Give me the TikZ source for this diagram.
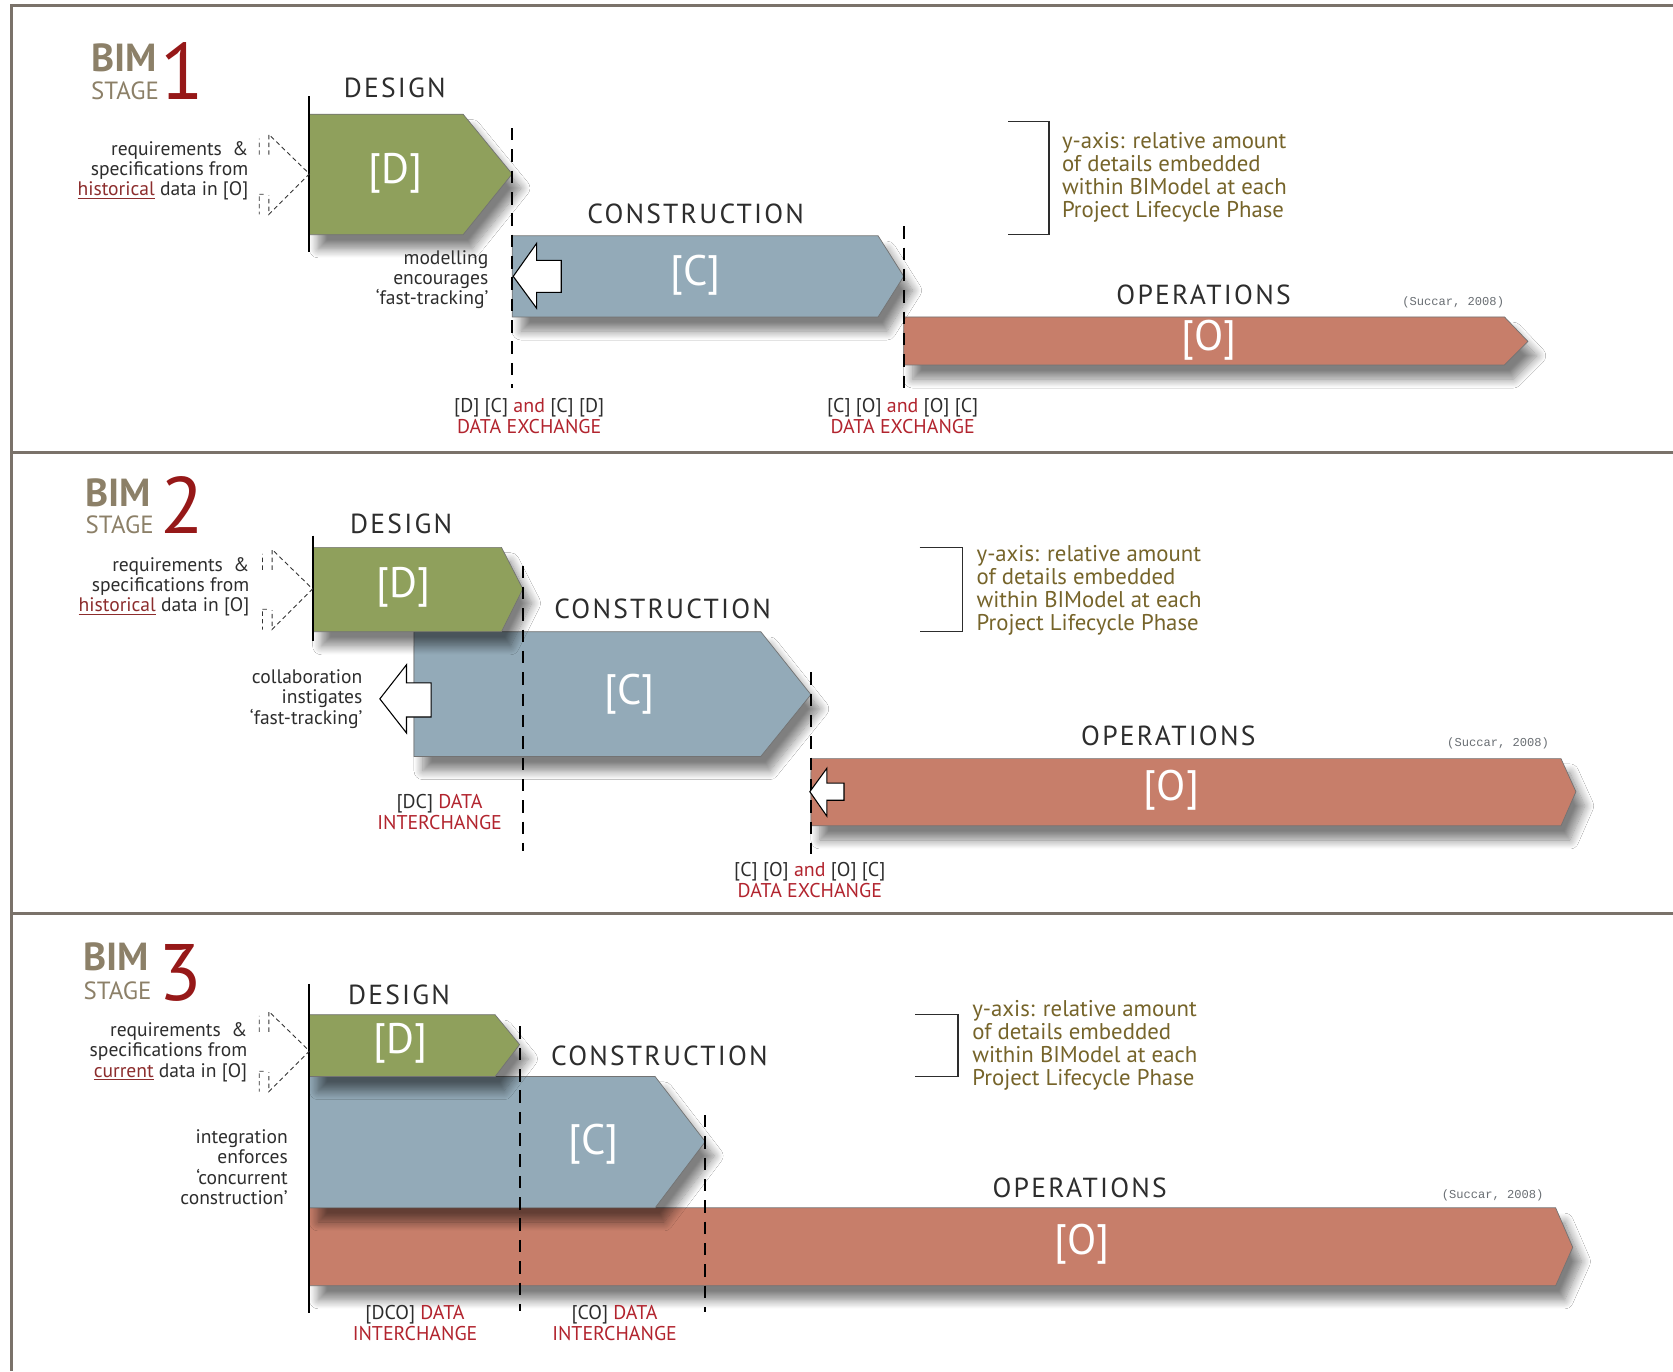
\documentclass[tikz,border=0pt]{standalone}
\usepackage{fontspec}
\setmainfont{PT Sans}
\setmonofont{Liberation Mono}
\usetikzlibrary{shadows.blur}

\definecolor{dgreen}{RGB}{143,160,92}
\definecolor{cblue}{RGB}{147,170,184}
\definecolor{ored}{RGB}{199,126,106}
\definecolor{framegray}{RGB}{122,114,106}
\definecolor{bimtan}{RGB}{140,128,104}
\definecolor{stagered}{RGB}{150,24,24}
\definecolor{xred}{RGB}{178,36,46}
\definecolor{histred}{RGB}{140,45,45}
\definecolor{yolive}{RGB}{118,100,42}
\definecolor{txt}{RGB}{45,45,45}
\definecolor{citegray}{RGB}{105,110,115}

\tikzset{
  phasebox/.style={draw=black!55, line width=0.4pt,
    blur shadow={shadow xshift=5pt, shadow yshift=-8pt, shadow blur radius=5pt,
      shadow blur steps=12, shadow opacity=50}},
  dbox/.style={phasebox, fill=dgreen},
  cbox/.style={phasebox, fill=cblue},
  obox/.style={phasebox, fill=ored},
  startline/.style={black, line width=1.1pt},
  xchline/.style={black, line width=1.1pt, dash pattern=on 7pt off 5pt},
  reqdash/.style={black!80, line width=0.5pt, dash pattern=on 2.5pt off 1.8pt},
  backarrow/.style={draw=black, fill=white, line width=0.6pt},
  bim/.style={inner sep=0, anchor=base west, text=bimtan, font=\fontsize{22}{22}\selectfont\bfseries},
  stagelab/.style={inner sep=0, anchor=base west, text=bimtan, font=\fontsize{14}{15}\selectfont},
  stagenum/.style={inner sep=0, anchor=base west, text=stagered, font=\fontsize{45}{45}\selectfont},
  phaselab/.style={inner sep=0, text=txt, font=\fontsize{15.5}{16}\selectfont\addfontfeatures{LetterSpace=8}},
  tag/.style={inner sep=0, text=white, font=\fontsize{24}{24}\selectfont},
  note/.style={inner sep=0, anchor=east, align=right, text=txt, font=\fontsize{11}{11.4}\selectfont},
  yaxis/.style={inner sep=0, anchor=west, align=left, text=yolive, font=\fontsize{12.8}{13}\selectfont},
  xchlab/.style={inner sep=0, align=center, text=txt, font=\fontsize{11.2}{11.6}\selectfont},
  cite/.style={inner sep=0, text=citegray, font=\fontsize{6.8}{7}\selectfont\ttfamily},
  reqarrow/.pic={
    \draw[reqdash] (-47,-18) -- (-47,-33) (-38,-18) -- (-38,-37) -- (0,0) -- (-38,38) -- (-38,20)
      (-47,21) -- (-47,38) (-47,19) -- (-41,19);
  }
}

\begin{document}
\begin{tikzpicture}[x=0.6pt, y=-0.6pt]
  \useasboundingbox[fill=white] (0,0) rectangle (1568,1285);

  % frame
  \draw[framegray, line width=1.7pt] (1568,5.6) -- (11.2,5.6) -- (11.2,1285);
  \draw[framegray, line width=1.7pt] (11.2,424.5) -- (1568,424.5);
  \draw[framegray, line width=1.7pt] (11.2,856.6) -- (1568,856.6);

  % ---------------- stage 1 ----------------
  \node[bim] (bim1) at (85,67) {BIM};
  \node[stagelab] (stage1) at (85,93) {STAGE};
  \node[stagenum] (num1) at (150,93) {1};

  \draw[obox] (847,297) -- (1410,297) -- (1432,320) -- (1410,342) -- (847,342) -- cycle;
  \draw[cbox] (480,221) -- (823,221) -- (847,259) -- (823,297) -- (480,297) -- cycle;
  \draw[dbox] (290,107) -- (434,107) -- (480,163) -- (434,220) -- (290,220) -- cycle;
  \draw[startline] (290,90) -- (290,236);
  \draw[xchline] (480,120) -- (480,364);
  \draw[xchline] (847,212) -- (847,366);
  \draw[backarrow] (481,259) -- (503,228) -- (503,244) -- (526,244) -- (526,274) -- (503,274) -- (503,289) -- cycle;
  \pic at (290,163) {reqarrow};

  \node[phaselab] (design1) at (370,82) {DESIGN};
  \node[phaselab] (cons1) at (652,200) {CONSTRUCTION};
  \node[phaselab] (ops1) at (1128,276) {OPERATIONS};
  \node[tag] (dtag1) at (371,162) {[D]};
  \node[tag] (ctag1) at (652,258) {[C]};
  \node[tag] (otag1) at (1133,319) {[O]};
  \node[cite] (cite1) at (1362,283) {(Succar, 2008)};
  \node[note] (req1) at (233,160) {requirements~~\&\\specifications from\\{\color{histred}\underline{historical}} data in [O]};
  \node[note] (mod1) at (458,262) {modelling\\encourages\\‘fast-tracking’};
  \draw[txt, line width=0.8pt] (945,114) -- (983,114) -- (983,220) -- (945,220);
  \node[yaxis] (yax1) at (995,166) {y-axis: relative amount\\of details embedded\\within BIModel at each\\Project Lifecycle Phase};
  \node[xchlab] (xch1) at (496,390) {[D] [C] {\color{xred}and} [C] [D]\\{\color{xred}DATA EXCHANGE}};
  \node[xchlab] (xch2) at (846,390) {[C] [O] {\color{xred}and} [O] [C]\\{\color{xred}DATA EXCHANGE}};

  % ---------------- stage 2 ----------------
  \node[bim] (bim2) at (80,475) {BIM};
  \node[stagelab] (stage2) at (80,500) {STAGE};
  \node[stagenum] (num2) at (150,500) {2};

  \draw[obox] (760,711) -- (1463,711) -- (1477,742) -- (1463,774) -- (760,774) -- cycle;
  \draw[cbox] (388,592) -- (713,592) -- (760,651) -- (713,709) -- (388,709) -- cycle;
  \draw[dbox] (293,513) -- (470,513) -- (490,552) -- (470,592) -- (293,592) -- cycle;
  \draw[startline] (293,502) -- (293,601);
  \draw[xchline] (490,530) -- (490,798);
  \draw[xchline] (760,630) -- (760,800);
  \draw[backarrow] (356,655) -- (381,623) -- (381,640) -- (404,640) -- (404,672) -- (381,672) -- (381,687) -- cycle;
  \draw[backarrow] (759,742) -- (775,720) -- (775,734) -- (791,734) -- (791,750) -- (775,750) -- (775,765) -- cycle;
  \pic at (293,552) {reqarrow};

  \node[phaselab] (design2) at (376,491) {DESIGN};
  \node[phaselab] (cons2) at (621,571) {CONSTRUCTION};
  \node[phaselab] (ops2) at (1095,690) {OPERATIONS};
  \node[tag] (dtag2) at (378,550) {[D]};
  \node[tag] (ctag2) at (590,651) {[C]};
  \node[tag] (otag2) at (1098,741) {[O]};
  \node[cite] (cite2) at (1404,697) {(Succar, 2008)};
  \node[note] (req2) at (234,550) {requirements~~\&\\specifications from\\{\color{histred}\underline{historical}} data in [O]};
  \node[note] (collab2) at (340,655) {collaboration\\instigates\\‘fast-tracking’};
  \draw[txt, line width=0.8pt] (862,513) -- (902,513) -- (902,592) -- (862,592);
  \node[yaxis] (yax2) at (915,553) {y-axis: relative amount\\of details embedded\\within BIModel at each\\Project Lifecycle Phase};
  \node[xchlab] (xch3) at (412,761) {[DC] {\color{xred}DATA}\\{\color{xred}INTERCHANGE}};
  \node[xchlab] (xch4) at (759,825) {[C] [O] {\color{xred}and} [O] [C]\\{\color{xred}DATA EXCHANGE}};

  % ---------------- stage 3 ----------------
  \node[bim] (bim3) at (78,910) {BIM};
  \node[stagelab] (stage3) at (78,937) {STAGE};
  \node[stagenum] (num3) at (148,938) {3};

  \draw[obox] (290,1132) -- (1458,1132) -- (1474,1169) -- (1458,1205) -- (290,1205) -- cycle;
  \draw[cbox] (290,1009) -- (614,1009) -- (661,1070) -- (614,1132) -- (290,1132) -- cycle;
  \draw[dbox] (290,951) -- (464,951) -- (487,979) -- (464,1009) -- (290,1009) -- cycle;
  \draw[startline] (290,922) -- (290,1231);
  \draw[xchline] (487,962) -- (487,1229);
  \draw[xchline] (661,1045) -- (661,1230);
  \pic at (290,985) {reqarrow};

  \node[phaselab] (design3) at (374,932) {DESIGN};
  \node[phaselab] (cons3) at (618,990) {CONSTRUCTION};
  \node[phaselab] (ops3) at (1012,1113) {OPERATIONS};
  \node[tag] (dtag3) at (375,978) {[D]};
  \node[tag] (ctag3) at (556,1072) {[C]};
  \node[tag] (otag3) at (1014,1166) {[O]};
  \node[cite] (cite3) at (1399,1120) {(Succar, 2008)};
  \node[note] (req3) at (232,986) {requirements~~\&\\specifications from\\{\color{histred}\underline{current}} data in [O]};
  \node[note] (integ3) at (270,1094) {integration\\enforces\\‘concurrent\\construction’};
  \draw[txt, line width=0.8pt] (858,951) -- (898,951) -- (898,1009) -- (858,1009);
  \node[yaxis] (yax3) at (911,980) {y-axis: relative amount\\of details embedded\\within BIModel at each\\Project Lifecycle Phase};
  \node[xchlab] (xch5) at (389,1240) {[DCO] {\color{xred}DATA}\\{\color{xred}INTERCHANGE}};
  \node[xchlab] (xch6) at (576,1240) {[CO] {\color{xred}DATA}\\{\color{xred}INTERCHANGE}};
\end{tikzpicture}
\end{document}
